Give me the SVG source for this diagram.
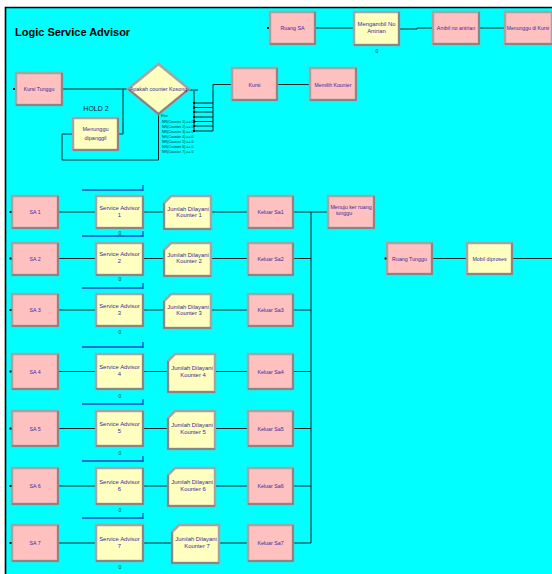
<svg xmlns="http://www.w3.org/2000/svg" width="552" height="574" viewBox="0 0 552 574">
<style>
.pk{fill:#ffc0c0;stroke:#a4a4a4;stroke-width:2.5}
.yl{fill:#ffffc0;stroke:#a4a4a4;stroke-width:2.5}
.sh{fill:none;stroke:#7e7e7e;stroke-width:1.5}
.t{font-family:"Liberation Sans",Arial,sans-serif;fill:#3a2a9c;text-anchor:middle}
.s5{font-size:5.3px}
.s6{font-size:5.9px}
.c{fill:none;stroke:#0a2626;stroke-width:1;marker-start:url(#d);marker-end:url(#d)}
.cs{fill:none;stroke:#0a2626;stroke-width:1;marker-start:url(#d)}
.ce{fill:none;stroke:#0a2626;stroke-width:1;marker-end:url(#d)}
.cn{fill:none;stroke:#0a2626;stroke-width:1}
.q{fill:none;stroke:#2244c4;stroke-width:1.3}
.cnt{font-family:"Liberation Sans",Arial,sans-serif;font-size:5px;fill:#333;text-anchor:middle}
.cond{font-family:"Liberation Sans",Arial,sans-serif;font-size:3.6px;fill:#103030}
.dot{fill:#000}
</style>
<defs>
<marker id="d" markerWidth="2.4" markerHeight="2.4" refX="1.2" refY="1.2" markerUnits="userSpaceOnUse"><rect width="2.4" height="2.4" fill="#000"/></marker>
</defs>
<rect width="552" height="574" fill="#fff"/>
<rect x="6" y="8" width="546" height="566" fill="#00ffff"/>
<path d="M5.5,574V7.5H552" fill="none" stroke="#000" stroke-width="1.6"/>
<text x="15" y="36" font-family="'Liberation Sans',Arial,sans-serif" font-size="11" font-weight="bold" fill="#000">Logic Service Advisor</text>

<g id="connectors">
<path class="c" d="M315,28H354"/>
<path class="c" d="M399,29H417V28H433"/>
<path class="c" d="M479,28H505"/>
<path class="c" d="M62,89H128"/>
<path class="cs" d="M118,134H123V89"/>
<path class="c" d="M158.5,114V160H62V134H73"/>
<path class="cn" d="M189,90H198"/>
<path class="cn" d="M194,91V131"/>
<path class="cs" d="M194,103H213"/>
<path class="cs" d="M194,107.5H213"/>
<path class="cs" d="M194,112H213"/>
<path class="cs" d="M194,117H213"/>
<path class="cs" d="M194,121.5H213"/>
<path class="cs" d="M194,126H213"/>
<path class="cs" d="M194,131H213"/>
<path class="ce" d="M213,131V84.5H232"/>
<path class="c" d="M277,84.5H310"/>
<path class="c" d="M58,212H96"/><path class="c" d="M143,212H164"/><path class="c" d="M211,212H248"/><path class="cs" d="M293,212H311"/>
<path class="c" d="M58,258.5H96"/><path class="c" d="M143,258.5H164"/><path class="c" d="M211,258.5H248"/><path class="cs" d="M293,258.5H311"/>
<path class="c" d="M58,310H96"/><path class="c" d="M143,310H164"/><path class="c" d="M211,310H248"/><path class="cs" d="M293,310H311"/>
<path class="c" d="M58,371.5H96"/><path class="c" d="M143,371.5H168"/><path class="c" d="M215,371.5H248"/><path class="cs" d="M293,371.5H311"/>
<path class="c" d="M58,428.5H96"/><path class="c" d="M143,428.5H168"/><path class="c" d="M215,428.5H248"/><path class="cs" d="M293,428.5H311"/>
<path class="c" d="M58,486H96"/><path class="c" d="M143,486H168"/><path class="c" d="M215,486H248"/><path class="cs" d="M293,486H311"/>
<path class="c" d="M58,543H96"/><path class="c" d="M143,543H172"/><path class="c" d="M219,543H248"/><path class="cs" d="M293,543H311"/>
<path class="cn" d="M311,212V543"/>
<path class="ce" d="M311,212H328"/>
<path class="c" d="M432,258.5H467"/>
<path class="cs" d="M512,258.5H552"/>
</g>

<g id="ruangSA"><rect class="pk" x="270" y="12" width="45" height="32"/><path class="sh" d="M270,44H315V12"/><rect class="dot" x="267" y="27" width="2" height="2"/><text class="t s5" x="292.5" y="30">Ruang SA</text></g>
<g id="mengambil"><rect class="yl" x="354" y="12" width="45" height="33"/><path class="sh" d="M354,45H399V12"/><text class="t s6" x="376.5" y="26">Mengambil No</text><text class="t s6" x="376.5" y="33">Antrian</text><text class="cnt" x="377" y="53">0</text></g>
<g id="ambil"><rect class="pk" x="433" y="12" width="46" height="32"/><path class="sh" d="M433,44H479V12"/><text class="t s5" x="456" y="30">Ambil no antrian</text></g>
<g id="menungguKursi"><rect class="pk" x="505" y="12" width="47" height="32"/><path class="sh" d="M505,44H552"/><text class="t" font-size="5.1" x="528" y="30">Menunggu di Kursi</text></g>
<g id="kursiTunggu"><rect class="pk" x="16" y="73" width="46" height="32"/><path class="sh" d="M16,105H62V73"/><rect class="dot" x="13" y="88" width="2" height="2"/><text class="t" font-size="5.2" x="39" y="91">Kursi Tunggu</text></g>
<g id="decide"><polygon points="158.5,64 189,89 158.5,114 128,89" fill="#ffffc0" stroke="#a4a4a4" stroke-width="2.8"/><path class="sh" d="M128,89L158.5,114L189,89"/><text class="t" font-size="5.4" x="158.5" y="91">Apakah counter Kosong</text>
<text class="cond" x="161" y="117">Else</text>
<text class="cond" x="162" y="123">NR(Counter 1) == 0</text>
<text class="cond" x="162" y="128">NR(Counter 2) == 0</text>
<text class="cond" x="162" y="133">NR(Counter 3) == 0</text>
<text class="cond" x="162" y="138">NR(Counter 4) == 0</text>
<text class="cond" x="162" y="142.5">NR(Counter 5) == 0</text>
<text class="cond" x="162" y="148">NR(Counter 6) == 0</text>
<text class="cond" x="162" y="153">NR(Counter 7) == 0</text></g>
<g id="menungguDipanggil"><text x="96" y="111" font-family="'Liberation Sans',Arial,sans-serif" font-size="7" fill="#1a1a3a" text-anchor="middle">HOLD 2</text><rect class="yl" x="73" y="118" width="45" height="32"/><path class="sh" d="M73,150H118V118"/><text class="t" font-size="5.5" x="95.5" y="131">Menunggu</text><text class="t" font-size="5.5" x="95.5" y="139.5">dipanggil</text></g>
<g id="kursi"><rect class="pk" x="232" y="68" width="45" height="32"/><path class="sh" d="M232,100H277V68"/><text class="t s5" x="254.5" y="86.5">Kursi</text></g>
<g id="memilihKounter"><rect class="pk" x="310" y="68" width="46" height="32"/><path class="sh" d="M310,100H356V68"/><text class="t" font-size="5.1" x="333" y="86.5">Memilih Kounter</text></g>

<g id="sa1"><rect class="pk" x="12" y="196" width="46" height="32"/><path class="sh" d="M12,228H58V196"/><rect class="dot" x="9.5" y="211" width="2" height="2"/><text class="t s5" x="35" y="214">SA 1</text></g>
<g id="adv1"><path class="q" d="M82,190H143M143,185V191"/><rect class="yl" x="96" y="196" width="47" height="32"/><path class="sh" d="M96,228H143V196"/><text class="t s6" x="119.5" y="209.5">Service Advisor</text><text class="t s6" x="119.5" y="216.5">1</text><text class="cnt" x="120" y="235">0</text></g>
<g id="jml1"><polygon class="yl" points="171,196 211,196 211,229 164,229 164,203"/><path class="sh" d="M164,203V229H211" stroke-width="2.2"/><text class="t s6" x="188" y="210.5">Jumlah Dilayani</text><text class="t s6" x="189" y="216.5">Kounter 1</text></g>
<g id="keluar1"><rect class="pk" x="248" y="196" width="45" height="32"/><path class="sh" d="M248,228H293V196"/><text class="t s5" x="270.5" y="214">Keluar Sa1</text></g>
<g id="menuju"><rect class="pk" x="328" y="196" width="46" height="32"/><path class="sh" d="M328,228H374V196"/><text class="t s5" x="351" y="208.5">Menuju ker ruang</text><text class="t s5" x="344" y="215">tunggu</text></g>

<g id="sa2"><rect class="pk" x="12" y="243" width="46" height="32"/><path class="sh" d="M12,275H58V243"/><rect class="dot" x="9.5" y="257.5" width="2" height="2"/><text class="t s5" x="35" y="260.5">SA 2</text></g>
<g id="adv2"><path class="q" d="M82,236H143M143,231V237"/><rect class="yl" x="96" y="243" width="47" height="32"/><path class="sh" d="M96,275H143V243"/><text class="t s6" x="119.5" y="256">Service Advisor</text><text class="t s6" x="119.5" y="263">2</text><text class="cnt" x="120" y="281">0</text></g>
<g id="jml2"><polygon class="yl" points="171,243 211,243 211,276 164,276 164,250"/><path class="sh" d="M164,250V276H211" stroke-width="2.2"/><text class="t s6" x="188" y="257">Jumlah Dilayani</text><text class="t s6" x="189" y="263">Kounter 2</text></g>
<g id="keluar2"><rect class="pk" x="248" y="243" width="45" height="32"/><path class="sh" d="M248,275H293V243"/><text class="t s5" x="270.5" y="260.5">Keluar Sa2</text></g>

<g id="sa3"><rect class="pk" x="12" y="294" width="46" height="32"/><path class="sh" d="M12,326H58V294"/><rect class="dot" x="9.5" y="309" width="2" height="2"/><text class="t s5" x="35" y="312">SA 3</text></g>
<g id="adv3"><path class="q" d="M82,288H143M143,283V289"/><rect class="yl" x="96" y="294" width="47" height="32"/><path class="sh" d="M96,326H143V294"/><text class="t s6" x="119.5" y="307.5">Service Advisor</text><text class="t s6" x="119.5" y="314.5">3</text><text class="cnt" x="120" y="334">0</text></g>
<g id="jml3"><polygon class="yl" points="171,294 211,294 211,328 164,328 164,301"/><path class="sh" d="M164,301V328H211" stroke-width="2.2"/><text class="t s6" x="188" y="309">Jumlah Dilayani</text><text class="t s6" x="189" y="315">Kounter 3</text></g>
<g id="keluar3"><rect class="pk" x="248" y="294" width="45" height="32"/><path class="sh" d="M248,326H293V294"/><text class="t s5" x="270.5" y="312">Keluar Sa3</text></g>

<g id="sa4"><rect class="pk" x="12" y="354" width="46" height="35"/><path class="sh" d="M12,389H58V354"/><rect class="dot" x="9.5" y="370.5" width="2" height="2"/><text class="t s5" x="35" y="373.5">SA 4</text></g>
<g id="adv4"><path class="q" d="M82,347H143M143,342V348"/><rect class="yl" x="96" y="354" width="47" height="35"/><path class="sh" d="M96,389H143V354"/><text class="t s6" x="119.5" y="369">Service Advisor</text><text class="t s6" x="119.5" y="376">4</text><text class="cnt" x="120" y="398">0</text></g>
<g id="jml4"><polygon class="yl" points="175,354 215,354 215,392 168,392 168,361"/><path class="sh" d="M168,361V392H215" stroke-width="2.2"/><text class="t s6" x="192" y="369.5">Jumlah Dilayani</text><text class="t s6" x="193" y="376.5">Kounter 4</text></g>
<g id="keluar4"><rect class="pk" x="248" y="354" width="45" height="35"/><path class="sh" d="M248,389H293V354"/><text class="t s5" x="270.5" y="373.5">Keluar Sa4</text></g>

<g id="sa5"><rect class="pk" x="12" y="411" width="46" height="35"/><path class="sh" d="M12,446H58V411"/><rect class="dot" x="9.5" y="427.5" width="2" height="2"/><text class="t s5" x="35" y="430.5">SA 5</text></g>
<g id="adv5"><path class="q" d="M82,404H143M143,399V405"/><rect class="yl" x="96" y="411" width="47" height="35"/><path class="sh" d="M96,446H143V411"/><text class="t s6" x="119.5" y="426">Service Advisor</text><text class="t s6" x="119.5" y="433">5</text><text class="cnt" x="120" y="455">0</text></g>
<g id="jml5"><polygon class="yl" points="175,411 215,411 215,449 168,449 168,418"/><path class="sh" d="M168,418V449H215" stroke-width="2.2"/><text class="t s6" x="192" y="426.5">Jumlah Dilayani</text><text class="t s6" x="193" y="433.5">Kounter 5</text></g>
<g id="keluar5"><rect class="pk" x="248" y="411" width="45" height="35"/><path class="sh" d="M248,446H293V411"/><text class="t s5" x="270.5" y="430.5">Keluar Sa5</text></g>

<g id="sa6"><rect class="pk" x="12" y="468" width="46" height="36"/><path class="sh" d="M12,504H58V468"/><rect class="dot" x="9.5" y="485" width="2" height="2"/><text class="t s5" x="35" y="488">SA 6</text></g>
<g id="adv6"><path class="q" d="M82,461H143M143,456V462"/><rect class="yl" x="96" y="468" width="47" height="36"/><path class="sh" d="M96,504H143V468"/><text class="t s6" x="119.5" y="483.5">Service Advisor</text><text class="t s6" x="119.5" y="490.5">6</text><text class="cnt" x="120" y="512">0</text></g>
<g id="jml6"><polygon class="yl" points="175,468 215,468 215,506 168,506 168,475"/><path class="sh" d="M168,475V506H215" stroke-width="2.2"/><text class="t s6" x="192" y="484">Jumlah Dilayani</text><text class="t s6" x="193" y="491">Kounter 6</text></g>
<g id="keluar6"><rect class="pk" x="248" y="468" width="45" height="36"/><path class="sh" d="M248,504H293V468"/><text class="t s5" x="270.5" y="488">Keluar Sa6</text></g>

<g id="sa7"><rect class="pk" x="12" y="525" width="46" height="36"/><path class="sh" d="M12,561H58V525"/><rect class="dot" x="9.5" y="542" width="2" height="2"/><text class="t s5" x="35" y="545">SA 7</text></g>
<g id="adv7"><path class="q" d="M82,518H143M143,513V519"/><rect class="yl" x="96" y="525" width="47" height="36"/><path class="sh" d="M96,561H143V525"/><text class="t s6" x="119.5" y="540.5">Service Advisor</text><text class="t s6" x="119.5" y="547.5">7</text><text class="cnt" x="120" y="569">0</text></g>
<g id="jml7"><polygon class="yl" points="179,525 219,525 219,563 172,563 172,532"/><path class="sh" d="M172,532V563H219" stroke-width="2.2"/><text class="t s6" x="196" y="541">Jumlah Dilayani</text><text class="t s6" x="197" y="548">Kounter 7</text></g>
<g id="keluar7"><rect class="pk" x="248" y="525" width="45" height="36"/><path class="sh" d="M248,561H293V525"/><text class="t s5" x="270.5" y="545">Keluar Sa7</text></g>

<g id="ruangTunggu"><rect class="pk" x="387" y="243" width="45" height="31"/><path class="sh" d="M387,274H432V243"/><rect class="dot" x="384.5" y="257.5" width="2" height="2"/><text class="t s5" x="409.5" y="260.5">Ruang Tunggu</text></g>
<g id="mobilDiproses"><rect class="yl" x="467" y="243" width="45" height="31"/><path class="sh" d="M467,274H512V243"/><text class="t s5" x="489.5" y="260.5">Mobil diproses</text></g>
</svg>
